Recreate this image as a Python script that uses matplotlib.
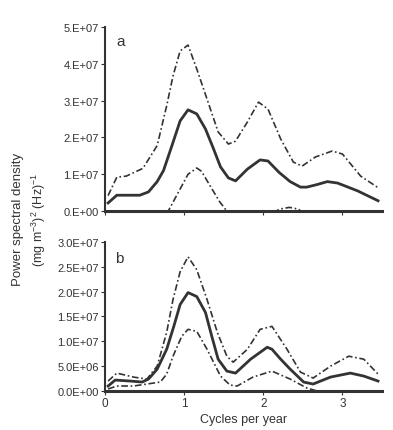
import numpy as np
import matplotlib
matplotlib.use('Agg')
import matplotlib.pyplot as plt

plt.rcParams['font.family'] = ['Liberation Sans', 'DejaVu Sans']
plt.rcParams['mathtext.fontset'] = 'custom'
plt.rcParams['mathtext.rm'] = 'Liberation Sans'
plt.rcParams['mathtext.it'] = 'Liberation Sans'

# =============================================
# Data (units of 1e7)
# =============================================

# panel a
xa_mid = [0.04, 0.15, 0.44, 0.55, 0.66, 0.74, 0.85, 0.95, 1.05, 1.16, 1.27, 1.37, 1.46,
          1.56, 1.65, 1.80, 1.96, 2.06, 2.20, 2.34, 2.47, 2.55, 2.68, 2.81, 2.94, 3.19, 3.45]
ya_mid = [0.22, 0.43, 0.43, 0.52, 0.80, 1.10, 1.80, 2.45, 2.75, 2.64, 2.23, 1.70, 1.20,
          0.90, 0.82, 1.14, 1.39, 1.36, 1.05, 0.80, 0.65, 0.65, 0.72, 0.80, 0.76, 0.55, 0.28]

xa_hi = [0.04, 0.15, 0.27, 0.48, 0.66, 0.78, 0.86, 0.95, 1.05, 1.16, 1.29, 1.43, 1.56,
         1.65, 1.80, 1.94, 2.06, 2.22, 2.38, 2.49, 2.66, 2.87, 3.00, 3.23, 3.44]
ya_hi = [0.42, 0.92, 0.95, 1.16, 1.78, 2.86, 3.67, 4.35, 4.51, 3.86, 3.04, 2.15, 1.82,
         1.90, 2.42, 2.96, 2.77, 1.96, 1.33, 1.22, 1.47, 1.63, 1.55, 0.95, 0.65]

xa_lo = [0.70, 0.80, 0.95, 1.05, 1.16, 1.22, 1.33, 1.45, 1.54, 1.70, 2.10, 2.20, 2.33,
         2.45, 2.55, 3.00, 3.45]
ya_lo = [-0.40, 0.00, 0.60, 1.00, 1.17, 1.08, 0.68, 0.25, 0.00, -0.40, -0.10, 0.05, 0.10,
         0.05, -0.20, -0.50, -0.10]

# panel b
xb_mid = [0.04, 0.13, 0.32, 0.47, 0.55, 0.66, 0.78, 0.87, 0.95, 1.05, 1.16, 1.27, 1.35,
          1.43, 1.54, 1.65, 1.84, 2.05, 2.11, 2.22, 2.34, 2.51, 2.63, 2.85, 3.10, 3.27, 3.45]
yb_mid = [0.10, 0.22, 0.20, 0.18, 0.24, 0.44, 0.84, 1.30, 1.74, 1.98, 1.90, 1.58, 1.10,
          0.64, 0.40, 0.36, 0.64, 0.88, 0.84, 0.64, 0.44, 0.18, 0.14, 0.28, 0.36, 0.30, 0.20]

xb_hi = [0.04, 0.15, 0.36, 0.53, 0.66, 0.78, 0.86, 0.95, 1.05, 1.16, 1.29, 1.42, 1.54,
         1.62, 1.80, 1.96, 2.11, 2.30, 2.47, 2.63, 2.85, 3.08, 3.27, 3.45]
yb_hi = [0.20, 0.36, 0.28, 0.24, 0.50, 1.18, 1.84, 2.40, 2.70, 2.44, 1.84, 1.18, 0.70,
         0.58, 0.84, 1.24, 1.30, 0.84, 0.38, 0.26, 0.50, 0.70, 0.64, 0.34]

xb_lo = [0.04, 0.15, 0.36, 0.53, 0.70, 0.78, 0.86, 0.97, 1.05, 1.16, 1.29, 1.46, 1.58,
         1.67, 1.87, 2.11, 2.34, 2.55, 2.68, 3.00, 3.45]
yb_lo = [0.04, 0.10, 0.10, 0.14, 0.18, 0.34, 0.70, 1.10, 1.24, 1.20, 0.84, 0.30, 0.12,
         0.10, 0.28, 0.40, 0.24, 0.06, 0.00, -0.20, -0.05]

ya_ticks = [0, 1, 2, 3, 4, 5]
ya_labels = ['0.E+00', '1.E+07', '2.E+07', '3.E+07', '4.E+07', '5.E+07']
yb_ticks = [0, 0.5, 1.0, 1.5, 2.0, 2.5, 3.0]
yb_labels = ['0.0E+00', '5.0E+06', '1.0E+07', '1.5E+07', '2.0E+07', '2.5E+07', '3.0E+07']
x_ticks = [0, 1, 2, 3]

col = '#333333'

# =============================================
# Plot
# =============================================

fig = plt.figure(figsize=(3.93, 4.31), dpi=100)
axA = fig.add_axes([0.267, 0.508, 0.705, 0.427])
axB = fig.add_axes([0.267, 0.0905, 0.705, 0.346])

def style(ax, yt, yl, ymax, xlab):
    ax.set_xlim(0, 3.5)
    ax.set_ylim(0, ymax)
    ax.set_yticks(yt)
    ax.set_yticklabels(yl, fontsize=8, color=col)
    ax.set_xticks(x_ticks)
    if xlab:
        ax.set_xticklabels([str(t) for t in x_ticks], fontsize=8.5, color=col)
    else:
        ax.set_xticklabels([])
    ax.spines['top'].set_visible(False)
    ax.spines['right'].set_visible(False)
    ax.spines['left'].set_linewidth(1.5)
    ax.spines['bottom'].set_linewidth(2.2)
    ax.spines['left'].set_color(col)
    ax.spines['bottom'].set_color(col)
    ax.tick_params(axis='both', length=3, width=0.8, color=col, pad=1.5)

dd = (0, (4, 1.6, 1, 1.6))
for ax, xm, ym, xh, yh, xl, yl in [(axA, xa_mid, ya_mid, xa_hi, ya_hi, xa_lo, ya_lo),
                                   (axB, xb_mid, yb_mid, xb_hi, yb_hi, xb_lo, yb_lo)]:
    ax.plot(xh, yh, color=col, lw=1.2, linestyle=dd)
    ax.plot(xl, yl, color=col, lw=1.2, linestyle=dd)
    ax.plot(xm, ym, color=col, lw=2.0, solid_joinstyle='round')

style(axA, ya_ticks, ya_labels, 5, False)
style(axB, yb_ticks, yb_labels, 3, True)

axA.text(0.04, 0.96, 'a', transform=axA.transAxes, fontsize=11, color=col, va='top')
axB.text(0.035, 0.94, 'b', transform=axB.transAxes, fontsize=11, color=col, va='top')

axB.set_xlabel('Cycles per year', fontsize=9, color=col, labelpad=3)

fig.text(0.046, 0.49, 'Power spectral density', rotation=90, fontsize=9.5,
         color=col, ha='center', va='center')
fig.text(0.1, 0.49, r'(mg m$^{-3}$)$^{2}$ (Hz)$^{-1}$', rotation=90, fontsize=9,
         color=col, ha='center', va='center')

fig.savefig('out.png', dpi=100)
